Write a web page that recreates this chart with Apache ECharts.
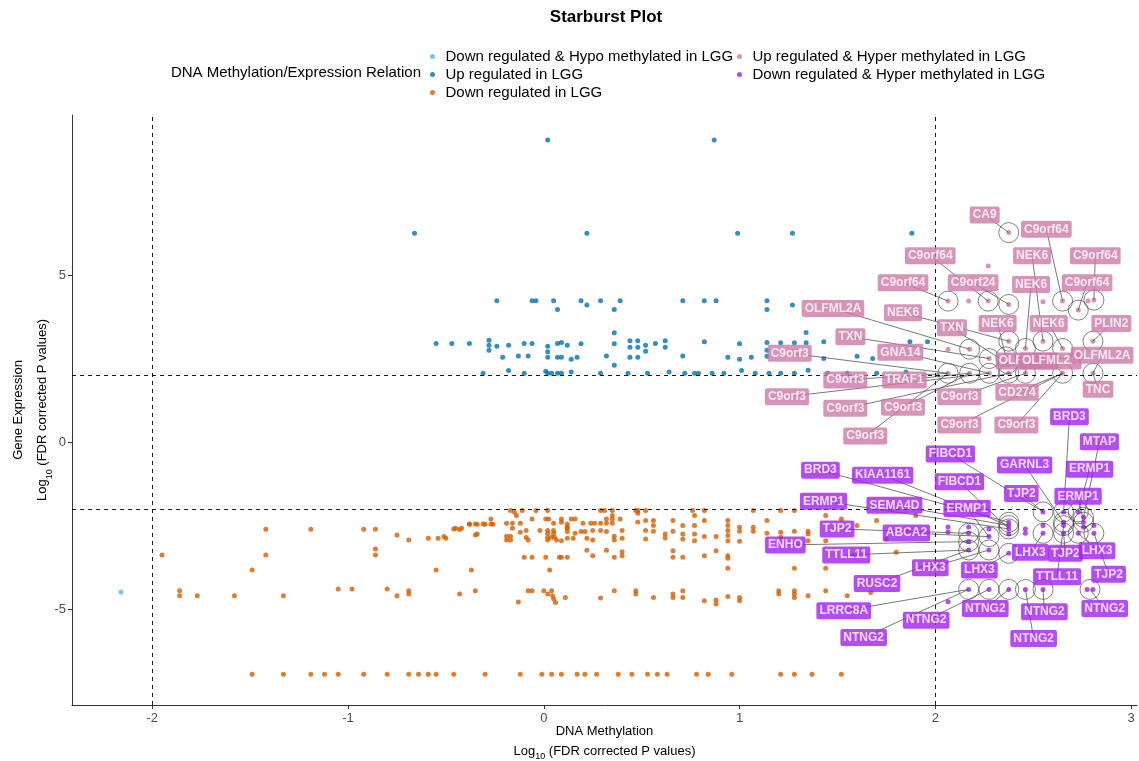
<!DOCTYPE html>
<html><head><meta charset="utf-8">
<script src="https://cdn.jsdelivr.net/npm/echarts@6/dist/echarts.min.js"></script>
<style>html,body{margin:0;padding:0;background:#fff}#c{width:1139px;height:761px}</style>
</head><body><div id="c"></div>
<script>
const seriesNames = ["Down regulated & Hypo methylated in LGG","Up regulated in LGG","Down regulated in LGG","Up regulated & Hyper methylated in LGG","Down regulated & Hyper methylated in LGG"];
const xTicks = [-2,-1,0,1,2,3];
const yTicks = [-5,0,5];
const thresholds = [-2,2];

const hypoDown = [[-2.16,-4.49]];

const upLGG = [
[0.02,9.04],[0.87,9.04],
[-0.66,6.25],[0.22,6.25],[0.99,6.25],[1.27,6.25],[1.88,6.25],
[-0.24,4.23],[-0.06,4.23],[-0.04,4.23],[0.05,4.23],[0.07,3.97],[0.19,4.23],[0.22,4.1],[0.29,4.23],[0.36,3.97],[0.39,4.23],[0.71,4.23],[0.82,4.23],[0.88,4.23],[1.14,4.23],[1.14,3.97],[1.27,4.1],
[-0.55,2.95],[-0.47,2.95],[-0.38,2.95],[-0.28,3.05],[-0.28,2.9],[-0.28,2.75],[-0.24,2.87],[-0.18,2.9],[-0.10,2.95],[-0.06,2.95],[0.02,2.87],[0.02,2.7],[0.07,2.95],[0.09,2.98],[0.12,2.9],[0.19,2.94],[0.36,3.27],[0.36,2.94],[0.44,3.03],[0.44,2.84],[0.48,3.03],[0.48,2.84],[0.52,2.9],[0.52,2.72],[0.57,2.95],[0.62,3.03],[0.62,2.84],[0.82,3.0],[1.0,2.94],[1.14,2.98],[1.21,2.97],[1.28,2.97],[1.34,3.28],[1.34,2.97],[1.43,3.0],[1.87,3.0],[1.96,3.0],
[-0.21,2.54],[-0.13,2.58],[-0.08,2.58],[0.02,2.54],[0.07,2.54],[0.09,2.54],[0.14,2.48],[0.17,2.54],[0.32,2.58],[0.44,2.54],[0.48,2.54],[0.71,2.58],[0.94,2.54],[1.0,2.48],[1.06,2.54],[1.14,2.75],[1.14,2.57],[1.43,2.5],[1.6,2.57],[1.68,2.5],
[-0.31,2.06],[-0.18,2.14],[-0.10,2.06],[0.02,2.06],[0.01,2.12],[0.04,2.06],[0.07,2.06],[0.09,2.06],[0.14,2.1],[0.29,2.06],[0.36,2.3],[0.43,2.06],[0.53,2.06],[0.64,2.1],[0.72,2.06],[0.77,2.06],[0.79,2.06],[0.86,2.06],[0.92,2.06],[1.01,2.14],[1.08,2.06],[1.15,2.06],[1.21,2.06],[1.28,2.06],[1.35,2.15],[1.45,2.06],[1.55,2.06],[1.7,2.06],[1.85,2.1]
];

const downLGG = [
[-1.95,-3.38],[-1.42,-2.61],[-1.42,-3.38],[-1.49,-3.83],[-1.19,-2.61],[-0.92,-2.61],[-0.86,-2.61],[-0.86,-3.2],[-0.86,-3.38],[-0.75,-2.78],[-0.69,-2.93],[-0.59,-2.88],[-0.54,-2.88],[-0.50,-2.88],[-0.45,-2.58],[-0.42,-2.58],[-0.38,-2.46],[-0.34,-2.46],[-0.30,-2.46],[-0.26,-2.46],[-0.34,-2.75],[-0.55,-3.83],[-0.37,-3.83],
[-1.86,-4.45],[-1.86,-4.6],[-1.77,-4.6],[-1.58,-4.6],[-1.33,-4.6],[-1.05,-4.4],[-0.98,-4.4],[-0.80,-4.4],[-0.75,-4.6],[-0.69,-4.45],[-0.69,-4.55],[-0.43,-4.55],[-0.35,-4.45],[-0.13,-4.79],[-0.08,-4.45],[-0.06,-4.45],[0.0,-4.45],[0.02,-4.55],[0.04,-4.45],[0.045,-4.6],[0.05,-4.7],[0.06,-4.8],[0.11,-4.65],[0.29,-4.67],[0.36,-4.45],[0.47,-4.45],[0.47,-4.55],[0.56,-4.65],[0.66,-4.55],[0.66,-4.65],[0.71,-4.45],[0.71,-4.65],[0.82,-4.75],[0.88,-4.73],[0.88,-4.85],[0.94,-4.62],[1.0,-4.65],[1.0,-4.75],[1.2,-4.45],[1.2,-4.55],[1.28,-4.45],[1.28,-4.55],[1.28,-4.65],[1.35,-4.6],[1.44,-4.45],[1.55,-4.6],[1.67,-4.5],
[0.03,-3.83],[0.94,-3.78],[1.28,-3.78],[1.44,-3.78],
[-0.10,-3.45],[-0.06,-3.45],[0.01,-3.45],[0.08,-3.45],[0.09,-3.45],[0.12,-3.45],[0.22,-3.24],[0.25,-3.4],[0.32,-3.24],[0.36,-3.45],[0.40,-3.28],[0.40,-3.4],[0.66,-3.25],[0.66,-3.45],[0.71,-3.45],[0.82,-3.4],[0.88,-3.25],[0.94,-3.4],[0.94,-3.48],
[-1.49,-6.95],[-1.33,-6.95],[-1.19,-6.95],[-1.12,-6.95],[-1.05,-6.95],[-0.92,-6.95],[-0.80,-6.95],[-0.69,-6.95],[-0.64,-6.95],[-0.59,-6.95],[-0.55,-6.95],[-0.46,-6.95],[-0.30,-6.95],[-0.12,-6.95],[-0.01,-6.95],[0.04,-6.95],[0.09,-6.95],[0.17,-6.95],[0.21,-6.95],[0.27,-6.95],[0.38,-6.95],[0.45,-6.95],[0.53,-6.95],[0.58,-6.95],[0.63,-6.95],[0.78,-6.95],[0.84,-6.95],[0.96,-6.95],[1.21,-6.95],[1.28,-6.95],[1.37,-6.95],[1.52,-6.95],
[-0.17,-2.05],[-0.15,-2.1],[-0.11,-2.05],[-0.04,-2.05],[0.02,-2.05],[0.29,-2.05],[0.31,-2.05],[0.35,-2.05],[0.47,-2.05],[-0.14,-2.2],
[-0.27,-2.3],[-0.38,-2.45],[-0.35,-2.45],[-0.31,-2.45],[-0.27,-2.45],[-0.19,-2.43],[-0.16,-2.43],[-0.12,-2.43],[-0.06,-2.3],[0.01,-2.3],[0.025,-2.3],[0.05,-2.43],[0.09,-2.3],[0.09,-2.4],[0.12,-2.45],[0.12,-2.55],[0.14,-2.3],[0.16,-2.3],[0.2,-2.43],[0.24,-2.43],[0.26,-2.43],[0.29,-2.43],[0.32,-2.3],[0.32,-2.43],[0.35,-2.2],[0.35,-2.3],[0.35,-2.43],[0.39,-2.3],
[-0.46,-2.6],[-0.43,-2.62],[-0.35,-2.78],[-0.16,-2.58],[-0.12,-2.7],[-0.09,-2.65],[-0.02,-2.65],[0.02,-2.65],[0.02,-2.73],[0.05,-2.65],[0.05,-2.73],[0.12,-2.58],[0.12,-2.68],[0.16,-2.73],[0.19,-2.68],[0.21,-2.68],[0.25,-2.65],[0.29,-2.65],[0.32,-2.68],[0.40,-2.65],
[-0.51,-2.83],[-0.19,-2.82],[-0.19,-2.93],[-0.17,-2.82],[-0.17,-2.93],[-0.09,-2.86],[-0.08,-2.93],[0.02,-2.85],[0.02,-2.93],[0.04,-2.85],[0.055,-2.85],[0.065,-2.93],[0.09,-2.95],[0.12,-2.88],[0.15,-2.88],[0.22,-2.88],[0.25,-2.93],[0.36,-2.82],[0.36,-2.93],[0.40,-2.88],
[0.48,-2.05],[0.52,-2.05],[0.76,-2.05],[0.82,-2.05],[1.07,-2.05],[1.21,-2.05],[1.28,-2.05],
[0.48,-2.13],[0.48,-2.39],[0.52,-2.35],[0.52,-2.65],[0.52,-2.9],[0.56,-2.35],[0.56,-2.5],[0.56,-2.67],[0.62,-2.75],[0.62,-2.87],[0.66,-2.35],[0.66,-2.67],[0.71,-2.5],[0.71,-2.75],[0.71,-2.9],[0.77,-2.2],[0.77,-2.5],[0.77,-2.75],[0.77,-2.95],[0.82,-2.35],[0.82,-2.83],[0.88,-2.83],[0.94,-2.35],[0.94,-2.5],[0.94,-2.65],[0.94,-2.8],[0.94,-2.95],[1.0,-2.55],[1.0,-2.67],[1.0,-2.97],[1.07,-2.55],[1.07,-2.67],[1.14,-2.35],[1.14,-2.73],[1.21,-2.7],[1.21,-2.85],[1.28,-2.67],[1.35,-2.67],[1.35,-2.75],[1.35,-2.95],[1.44,-2.2],[1.44,-2.95],
[1.52,-2.3],[1.6,-2.5],[1.7,-2.35],[1.75,-2.9],[1.85,-2.6],[1.9,-2.2],[1.58,-3.4],[1.8,-3.3]
];

const upHyper = [
[2.375,6.27],[2.27,5.27],[2.065,4.22],[2.17,4.22],[2.27,4.22],[2.375,4.12],[2.55,4.2],[2.65,4.22],[2.73,3.95],[2.78,4.22],[2.81,4.25],
[2.175,2.78],[2.275,2.5],[2.375,3.02],[2.46,2.8],[2.55,3.02],[2.65,2.8],[2.805,3.02],[2.36,2.55],[2.37,2.35],[2.065,2.78],
[2.065,2.06],[2.175,2.06],[2.275,2.06],[2.375,2.06],[2.46,2.06],[2.65,2.06],[2.805,2.06]
];

const downHyper = [
[2.55,-2.09],[2.655,-2.09],[2.73,-2.09],[2.757,-2.25],[2.375,-2.4],[2.375,-2.5],[2.375,-2.6],[2.655,-2.4],[2.655,-2.5],[2.757,-2.4],[2.757,-2.55],
[2.17,-2.54],[2.17,-2.73],[2.17,-2.98],[2.17,-3.23],[2.274,-2.83],[2.274,-3.23],[2.375,-3.33],[2.46,-2.73],[2.55,-2.73],[2.655,-2.73],[2.73,-2.73],[2.81,-2.73],
[2.17,-4.41],[2.274,-4.41],[2.375,-4.41],[2.46,-4.41],[2.55,-4.41],[2.775,-4.41],[2.805,-4.41],
[2.065,-4.78],[2.065,-2.54],[2.065,-2.69],[2.46,-2.6],[2.55,-2.5],[2.81,-2.5],[2.375,-2.75],[2.274,-2.6]
];

// [gene, pointX, pointY, labelX, labelY]
const hyperUpLabels = [
["CA9",2.375,6.27,2.252,6.80],["C9orf64",2.65,4.22,2.567,6.37],["C9orf64",2.27,4.22,1.974,5.58],["NEK6",2.55,3.02,2.494,5.58],["C9orf64",2.81,4.25,2.817,5.58],
["C9orf64",2.065,4.22,1.835,4.77],["C9orf24",2.375,4.12,2.193,4.77],["NEK6",2.46,2.8,2.489,4.72],["C9orf64",2.73,3.95,2.775,4.77],
["OLFML2A",2.175,2.78,1.477,4.0],["NEK6",2.375,3.02,1.835,3.87],["TXN",2.275,2.5,1.566,3.15],["TXN",2.37,2.35,2.085,3.42],["NEK6",2.36,2.55,2.318,3.55],["NEK6",2.65,2.8,2.579,3.55],["PLIN2",2.805,3.02,2.899,3.55],
["C9orf3",2.065,2.06,1.256,2.66],["GNA14",2.275,2.06,1.821,2.69],["OLFML2A",2.46,2.06,2.468,2.43],["OLFML2A",2.65,2.06,2.587,2.43],["OLFML2A",2.805,2.06,2.852,2.60],
["C9orf3",2.065,2.06,1.540,1.86],["TRAF1",2.175,2.06,1.842,1.86],["C9orf3",2.275,2.06,1.242,1.36],["C9orf3",2.46,2.06,2.123,1.36],["CD274",2.65,2.06,2.417,1.49],["TNC",2.805,2.06,2.831,1.58],
["C9orf3",2.375,2.06,1.540,1.01],["C9orf3",2.175,2.06,1.835,1.04],["C9orf3",2.65,2.06,2.123,0.51],["C9orf3",2.65,2.06,2.414,0.51],["C9orf3",2.065,2.06,1.642,0.18]
];

const hyperDownLabels = [
["BRD3",2.655,-2.09,2.685,0.76],["MTAP",2.757,-2.25,2.838,0.01],["FIBCD1",2.55,-2.09,2.077,-0.36],["GARNL3",2.655,-2.4,2.456,-0.69],["ERMP1",2.73,-2.09,2.788,-0.81],
["BRD3",2.375,-2.4,1.413,-0.84],["KIAA1161",2.375,-2.5,1.731,-0.99],["FIBCD1",2.375,-2.6,2.123,-1.19],["TJP2",2.55,-2.09,2.439,-1.54],["ERMP1",2.757,-2.4,2.729,-1.62],
["ERMP1",2.375,-2.6,1.429,-1.77],["SEMA4D",2.375,-2.5,1.791,-1.89],["ERMP1",2.274,-2.83,2.162,-1.99],["TJP2",2.17,-2.73,1.498,-2.60],["ABCA2",2.274,-2.83,1.852,-2.72],
["ENHO",2.17,-2.98,1.234,-3.08],["TTLL11",2.17,-3.23,1.545,-3.38],["LHX3",2.55,-2.73,2.485,-3.30],["TJP2",2.655,-2.73,2.664,-3.33],["LHX3",2.73,-2.73,2.826,-3.25],
["LHX3",2.274,-3.23,1.974,-3.76],["LHX3",2.375,-3.33,2.225,-3.83],["TTLL11",2.655,-2.5,2.622,-4.03],["TJP2",2.81,-2.73,2.885,-3.96],["RUSC2",2.17,-3.23,1.702,-4.23],
["LRRC8A",2.17,-4.41,1.532,-5.05],["NTNG2",2.375,-4.41,2.255,-4.98],["NTNG2",2.55,-4.41,2.557,-5.08],["NTNG2",2.79,-4.41,2.865,-4.98],["NTNG2",2.274,-4.41,1.953,-5.33],
["NTNG2",2.17,-4.41,1.634,-5.85],["NTNG2",2.46,-4.41,2.502,-5.88]
];

const colors = ["#56B4E9","#0072B2","#D55E00","#CC79A7","#A020F0"];
const FONT = "Liberation Sans, Arial, sans-serif";

function uniq(arr){const s=new Set();const out=[];arr.forEach(r=>{const k=r[1]+','+r[2];if(!s.has(k)){s.add(k);out.push([r[1],r[2]]);}});return out;}
const circlePts = uniq(hyperUpLabels.concat(hyperDownLabels));
const segs = hyperUpLabels.concat(hyperDownLabels).map(r=>({coords:[[r[3],r[4]],[r[1],r[2]]]}));

function labelSeries(list,color){
  return {type:'scatter',silent:true,z:6,symbolSize:2,itemStyle:{color:'rgba(0,0,0,0)'},
    data:list.map(r=>({name:r[0],value:[r[3],r[4]]})),
    label:{show:true,position:'inside',formatter:'{b}',color:'#fff',fontFamily:FONT,fontWeight:'bold',fontSize:12,
      backgroundColor:color,padding:[3,3,2,3],borderRadius:2},
    labelLayout:{hideOverlap:false}};
}

const chart = echarts.init(document.getElementById('c'),null,{renderer:'canvas'});
const ptSize = 5;
chart.setOption({
  animation:false,
  textStyle:{fontFamily:FONT},
  grid:{left:72,right:2,top:115,bottom:56,containLabel:false,outerBoundsMode:'none'},
  graphic:[
    {type:'text',x:606,y:17,style:{text:'Starburst Plot',font:'bold 17px '+FONT,fill:'#000',align:'center',verticalAlign:'middle'}},
    {type:'text',x:421,y:73,style:{text:'DNA Methylation/Expression Relation',font:'15px '+FONT,fill:'#000',align:'right',verticalAlign:'middle'}}
  ],
  legend:[
    {data:seriesNames.slice(0,3),orient:'vertical',left:425,top:44,itemWidth:16,itemHeight:5,itemGap:3,icon:'circle',
      textStyle:{fontSize:15,color:'#000',fontFamily:FONT},selectedMode:false},
    {data:seriesNames.slice(3),orient:'vertical',left:732,top:44,itemWidth:16,itemHeight:5,itemGap:3,icon:'circle',
      textStyle:{fontSize:15,color:'#000',fontFamily:FONT},selectedMode:false}
  ],
  xAxis:{type:'value',min:-2.41,max:3.03,
    axisLine:{show:true,onZero:false,lineStyle:{color:'#333',width:1}},
    axisTick:{show:true,length:4,lineStyle:{color:'#333'},customValues:xTicks},
    axisLabel:{show:true,customValues:xTicks,color:'#4d4d4d',fontSize:13,margin:7},
    splitLine:{show:false},
    name:'{a|DNA Methylation}\n{a|Log}{s|10}{a| (FDR corrected P values)}',nameLocation:'middle',nameGap:16,nameMoveOverlap:false,
    nameTextStyle:{rich:{a:{fontSize:13,color:'#000',lineHeight:20,fontFamily:FONT},s:{fontSize:9,color:'#000',lineHeight:14,verticalAlign:'bottom',fontFamily:FONT}}}
  },
  yAxis:{type:'value',min:-7.87,max:9.79,
    axisLine:{show:true,onZero:false,lineStyle:{color:'#333',width:1}},
    axisTick:{show:true,length:4,lineStyle:{color:'#333'},customValues:yTicks},
    axisLabel:{show:true,customValues:yTicks,color:'#4d4d4d',fontSize:13,margin:6},
    splitLine:{show:false},
    name:'{a|Gene Expression}\n{a|Log}{s|10}{a| (FDR corrected P values)}',nameLocation:'middle',nameGap:18,nameRotate:90,nameMoveOverlap:false,
    nameTextStyle:{rich:{a:{fontSize:13,color:'#000',lineHeight:24,fontFamily:FONT},s:{fontSize:9,color:'#000',lineHeight:16,verticalAlign:'bottom',fontFamily:FONT}}}
  },
  series:[
    {name:seriesNames[0],type:'scatter',symbolSize:ptSize,itemStyle:{color:colors[0]},data:hypoDown,z:2},
    {name:seriesNames[1],type:'scatter',symbolSize:ptSize,itemStyle:{color:colors[1]},data:upLGG,z:2,
      markLine:{silent:true,symbol:['none','none'],label:{show:false},animation:false,
        lineStyle:{color:'#000',type:[4,4],width:0.9},
        data:thresholds.map(v=>({xAxis:v})).concat(thresholds.map(v=>({yAxis:v})))}},
    {name:seriesNames[2],type:'scatter',symbolSize:ptSize,itemStyle:{color:colors[2]},data:downLGG,z:2},
    {name:seriesNames[3],type:'scatter',symbolSize:ptSize,itemStyle:{color:colors[3]},data:upHyper,z:2},
    {name:seriesNames[4],type:'scatter',symbolSize:ptSize,itemStyle:{color:colors[4]},data:downHyper,z:2},
    {type:'scatter',silent:true,z:3,symbolSize:20,itemStyle:{color:'rgba(0,0,0,0)',borderColor:'#222',borderWidth:0.7},data:circlePts},
    {type:'lines',coordinateSystem:'cartesian2d',silent:true,z:4,polyline:false,symbol:['none','none'],
      lineStyle:{color:'#555',width:0.8,opacity:1},data:segs},
    labelSeries(hyperUpLabels,colors[3]),
    labelSeries(hyperDownLabels,colors[4])
  ]
});
</script></body></html>
